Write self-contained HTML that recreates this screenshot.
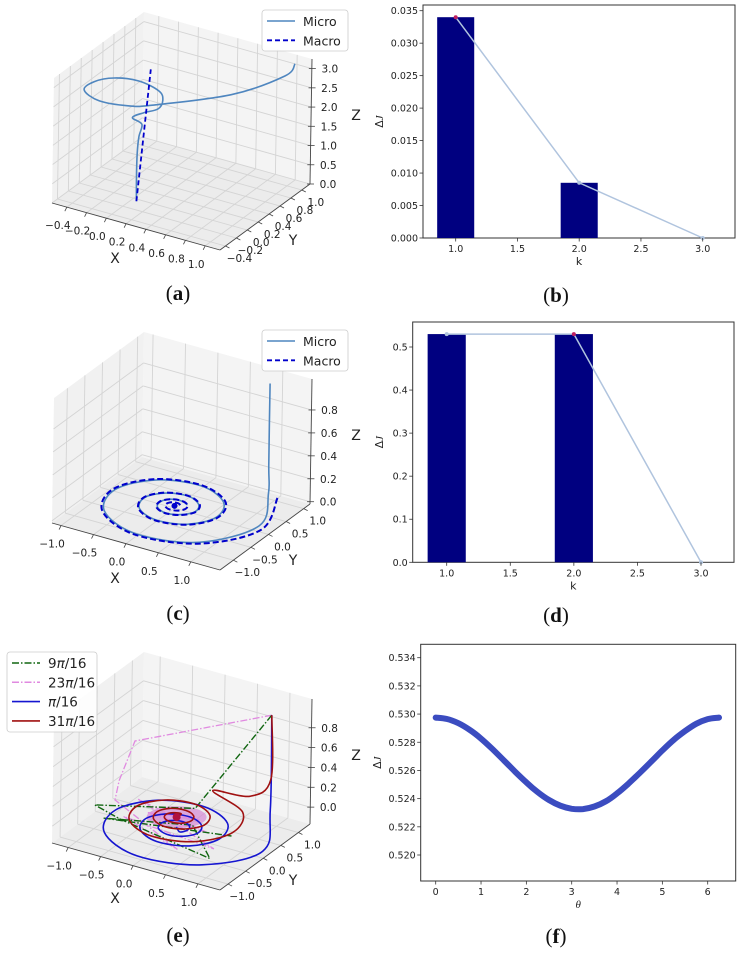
<!DOCTYPE html>
<html><head><meta charset="utf-8"><style>
html,body{margin:0;padding:0;background:#fff;}
svg{display:block;font-family:"DejaVu Sans","Liberation Sans",sans-serif;}
.cap{font-family:"Liberation Serif",serif;font-size:21px;}
</style></head><body>
<svg id="fig" width="741" height="957" viewBox="0 0 741 957" xmlns="http://www.w3.org/2000/svg">
<g id="root"></g>
</svg>
<script>
// ---------- Panel (a) data ----------
const aMicroX = [0.05,-0.04,-0.08,-0.12,-0.07,-0.15,-0.02,0.16,0.11,-0.01,-0.26,-0.47,-0.58,-0.57,-0.35,-0.08,0.08,0.63,0.95,0.98];
const aMicroY = [-0.04,0.12,0.20,0.30,0.26,0.23,0.20,0.13,0.31,0.46,0.54,0.47,0.30,0.10,-0.02,0.04,0.17,0.62,1.02,1.15];
const aMicroZ = [0.0,0.4,0.9,1.2,1.6,1.75,2.0,2.3,2.3,2.3,2.3,2.3,2.3,2.3,2.3,2.3,2.3,2.5,2.8,3.0];
const aMacroX = [0.05,-0.06];
const aMacroY = [-0.04,0.39];
const aMacroZ = [0.0,2.9];
const aXTicks = [-0.4,-0.2,0.0,0.2,0.4,0.6,0.8,1.0];
const aYTicks = [-0.4,-0.2,0.0,0.2,0.4,0.6,0.8,1.0];
const aZTicks = [0.0,0.5,1.0,1.5,2.0,2.5,3.0];
// ---------- Panel (c) data ----------
const cMacroX = [1.03,1.33,0.86,0,-0.72,-0.94,-0.61,0,0.51,0.66,0.43,0,-0.36,-0.47,-0.30,0,0.25,0.33,0.21,0,-0.18,-0.23,-0.15,0,0.13,0.17,0.11,0,-0.09,-0.12,-0.08,0,0.06];
const cMacroY = [1.03,0,-0.86,-1.12,-0.72,0,0.61,0.79,0.51,0,-0.43,-0.56,-0.36,0,0.30,0.39,0.25,0,-0.21,-0.28,-0.18,0,0.15,0.20,0.13,0,-0.11,-0.14,-0.09,0,0.08,0.10,0.06];
const cMicroX = [0.93,0.93,0.96,1.25,0.83,0,-0.70,-0.91,-0.59,0,0.49,0.64,0.42,0,-0.35,-0.46,-0.29,0,0.24,0.32,0.20,0,-0.17,-0.22,-0.15,0,0.13];
const cMicroY = [0.95,0.95,0.90,0.10,-0.83,-1.09,-0.70,0,0.59,0.77,0.49,0,-0.42,-0.54,-0.35,0,0.29,0.38,0.24,0,-0.20,-0.27,-0.17,0,0.15,0.19,0.13];
const cMicroZ = [1.0,0.3,0.06,0,0,0,0,0,0,0,0,0,0,0,0,0,0,0,0,0,0,0,0,0,0,0,0];
const cXTicks = [-1.0,-0.5,0.0,0.5,1.0];
const cYTicks = [-1.0,-0.5,0.0,0.5,1.0];
const cZTicks = [0.0,0.2,0.4,0.6,0.8];
// ---------- Panel (e) data ----------
const eBlueX = [0.93,0.93,1.33,0.86,0,-0.72,-0.94,-0.61,0,0.51,0.66,0.43,0,-0.36,-0.47,-0.30,0,0.25,0.33,0.21,0,-0.18,-0.23,-0.15,0,0.13,0.17,0.11,0];
const eBlueY = [0.95,0.95,0,-0.86,-1.12,-0.72,0,0.61,0.79,0.51,0,-0.43,-0.56,-0.36,0,0.30,0.39,0.25,0,-0.21,-0.28,-0.18,0,0.15,0.20,0.13,0,-0.11,0];
const eBlueZ = [0.95,0.0,-0.1,-0.1,-0.1,-0.1,-0.1,-0.1,-0.1,-0.1,-0.1,-0.1,-0.1,-0.1,-0.1,-0.1,-0.1,-0.1,-0.1,-0.1,-0.1,-0.1,-0.1,-0.1,-0.1,-0.1,-0.1,-0.1,-0.1];
const eRedX = [0.93,0.93,0.80,0,0.66,0.86,0.56,0,-0.47,-0.61,-0.39,0,0.33,0.43,0.27,0,-0.23,-0.30,-0.20,0,0.17,0.22,0.14,0,-0.12,-0.16,-0.10,0,0];
const eRedY = [0.95,0.95,0.60,1.03,0.66,0,-0.56,-0.73,-0.47,0,0.39,0.51,0.33,0,-0.27,-0.36,-0.23,0,0.20,0.26,0.17,0,-0.14,-0.18,-0.12,0,0.10,0.13,0];
const eRedZ = [0.95,0.30,0.20,0,0,0,0,0,0,0,0,0,0,0,0,0,0,0,0,0,0,0,0,0,0,0,0,0,0];
const ePinkX = [0.93,-0.95,-1.05,-0.95,0.5,-0.6,0.9,-0.7,0.6,-0.4,0.3,-0.2,0.1];
const ePinkY = [0.95,0.55,0.3,0.0,-0.9,-0.4,-0.6,0.2,-0.2,-0.1,0.1,0.0,0.0];
const ePinkZ = [0.95,0.45,0.1,0,0,0,0,0,0,0,0,0,0];
const eGreenX = [0.93,0.15,-1.1,-0.6,1.0,0.3,-0.8,0.9];
const eGreenY = [0.95,0.25,-0.3,-0.5,-0.9,-0.1,-0.6,-0.1];
const eGreenZ = [0.95,0.05,0,0,0,0,0,0];
const eXTicks = [-1.0,-0.5,0.0,0.5,1.0];
const eYTicks = [-1.0,-0.5,0.0,0.5,1.0];
const eZTicks = [0.0,0.2,0.4,0.6,0.8];
// ---------- Panel (b) data ----------
const bK = [1,2];
const bBars = [0.034,0.0085];
const bLineK = [1,2,3];
const bLineV = [0.034,0.0085,0.0];
const bYTicks = [0.000,0.005,0.010,0.015,0.020,0.025,0.030,0.035];
const bXTicks = [1.0,1.5,2.0,2.5,3.0];
// ---------- Panel (d) data ----------
const dK = [1,2];
const dBars = [0.53,0.53];
const dLineK = [1,2,3];
const dLineV = [0.53,0.53,0.0];
const dYTicks = [0.0,0.1,0.2,0.3,0.4,0.5];
const dXTicks = [1.0,1.5,2.0,2.5,3.0];
// ---------- Panel (f) data ----------
const fTheta = [0,0.25,0.5,0.75,1,1.25,1.5,1.75,2,2.25,2.5,2.75,3,3.25,3.5,3.75,4,4.25,4.5,4.75,5,5.25,5.5,5.75,6,6.25];
const fVals = [0.52975,0.52965,0.52935,0.52888,0.52826,0.52752,0.52673,0.52592,0.52515,0.52446,0.52390,0.52350,0.52328,0.52326,0.52344,0.52380,0.52437,0.52506,0.52582,0.52661,0.52742,0.52817,0.52879,0.52932,0.52964,0.52975];
const fYTicks = [0.520,0.522,0.524,0.526,0.528,0.530,0.532,0.534];
const fXTicks = [0,1,2,3,4,5,6];

const NS = "http://www.w3.org/2000/svg";
const root = document.getElementById('root');
function mk(tag, attrs, parent){
  const e = document.createElementNS(NS, tag);
  for (const k in attrs) e.setAttribute(k, attrs[k]);
  (parent||root).appendChild(e);
  return e;
}
function txt(s, x, y, size, parent, anchor){
  const t = mk('text', {x:x, y:y, 'font-size':size, 'text-anchor':anchor||'middle', fill:'#222'}, parent);
  t.textContent = s;
  return t;
}
function crPath(pts){
  if (pts.length < 2) return '';
  let d = 'M' + pts[0][0].toFixed(1) + ' ' + pts[0][1].toFixed(1);
  for (let i = 0; i < pts.length-1; i++){
    const p0 = pts[i-1]||pts[i], p1 = pts[i], p2 = pts[i+1], p3 = pts[i+2]||p2;
    const c1 = [p1[0]+(p2[0]-p0[0])/6, p1[1]+(p2[1]-p0[1])/6];
    const c2 = [p2[0]-(p3[0]-p1[0])/6, p2[1]-(p3[1]-p1[1])/6];
    d += ' C'+c1[0].toFixed(1)+' '+c1[1].toFixed(1)+' '+c2[0].toFixed(1)+' '+c2[1].toFixed(1)+' '+p2[0].toFixed(1)+' '+p2[1].toFixed(1);
  }
  return d;
}
function linPath(pts){ return pts.map((p,i)=>(i?'L':'M')+p[0].toFixed(1)+' '+p[1].toFixed(1)).join(' '); }

// ---------- 3D panel ----------
function panel3d(name, oy, xr, yr, zr, xt, yt, zt){
  const g = mk('g', {});
  
  
  const P = (x,y,z)=>{
    const u=(x-xr[0])/(xr[1]-xr[0]), v=(y-yr[0])/(yr[1]-yr[0]), w=(z-zr[0])/(zr[1]-zr[0]);
    return [52+u*168+v*90+w*2, oy+203+u*47-v*66-w*125];
  };
  const poly = (pts, fill)=> mk('polygon', {points: pts.map(p=>p.join(',')).join(' '), fill:fill, stroke:'none'}, g);
  const [x0,x1]=xr,[y0,y1]=yr,[z0,z1]=zr;
  const left = poly([P(x0,y0,z0),P(x0,y1,z0),P(x0,y1,z1),P(x0,y0,z1)], '#f1f1f1');
   
  const back = poly([P(x0,y1,z0),P(x1,y1,z0),P(x1,y1,z1),P(x0,y1,z1)], '#f4f4f4');
   
  const floor = poly([P(x0,y0,z0),P(x1,y0,z0),P(x1,y1,z0),P(x0,y1,z0)], '#ececec');
   
  const gl = (a,b)=> mk('line', {x1:a[0],y1:a[1],x2:b[0],y2:b[1],stroke:'#d4d4d4','stroke-width':0.9}, g);
  xt.forEach(x=>{ gl(P(x,y0,z0),P(x,y1,z0)); gl(P(x,y1,z0),P(x,y1,z1)); });
  yt.forEach(y=>{ gl(P(x0,y,z0),P(x1,y,z0)); gl(P(x0,y,z0),P(x0,y,z1)); });
  zt.forEach(z=>{ gl(P(x0,y0,z),P(x0,y1,z)); gl(P(x0,y1,z),P(x1,y1,z)); });
  const al = (a,b)=> mk('line', {x1:a[0],y1:a[1],x2:b[0],y2:b[1],stroke:'#444','stroke-width':0.9}, g);
  al(P(x0,y0,z0),P(x1,y0,z0)); al(P(x1,y0,z0),P(x1,y1,z0)); al(P(x1,y1,z0),P(x1,y1,z1));
  xt.forEach(x=>{ const p=P(x,y0,z0); mk('line',{x1:p[0],y1:p[1],x2:p[0]-2,y2:p[1]+4,stroke:'#444','stroke-width':0.8},g);
    const t=txt(x.toFixed(1).replace('-','\u2212'), p[0]-9, p[1]+22, 10.5, g);
      });
  yt.forEach(y=>{ const p=P(x1,y,z0); mk('line',{x1:p[0],y1:p[1],x2:p[0]+4,y2:p[1]+2,stroke:'#444','stroke-width':0.8},g);
    const t=txt(y.toFixed(1).replace('-','\u2212'), p[0]+14, p[1]+16, 10.5, g);
      });
  zt.forEach(z=>{ const p=P(x1,y1,z); mk('line',{x1:p[0]-3,y1:p[1],x2:p[0]+4,y2:p[1],stroke:'#444','stroke-width':0.8},g);
    const t=txt(z.toFixed(1), p[0]+18, p[1]+4, 10.5, g);
      });
  const xl=txt('X',115,oy+263,14,g);  
  const yl=txt('Y',293,oy+245,14,g);  
  const zl=txt('Z',356,oy+120,14,g);  
  return {g:g, P:P};
}
function curve3d(pan, xs, ys, zs, style, name, smooth){
  const pts = xs.map((x,i)=>pan.P(x, ys[i], zs[i]));
  const a = Object.assign({d: smooth? crPath(pts): linPath(pts), fill:'none'}, style);
  const p = mk('path', a, pan.g);
  
  
  return p;
}
function legend(x, y, w, h, entries, gParent, name, fs){
  const g = mk('g', {}, gParent);
  
  
  mk('rect', {x:x,y:y,width:w,height:h,rx:3,fill:'#fff','fill-opacity':0.85,stroke:'#ccc','stroke-width':0.8}, g);
  entries.forEach((e,i)=>{
    const yy = y + 11 + i*19.3;
    const ln = mk('line', Object.assign({x1:x+5,y1:yy,x2:x+33,y2:yy}, e.style), g);
     
    const t = mk('text', {x:x+41, y:yy+5, 'font-size':fs, fill:'#222'}, g);
    t.innerHTML = e.label;
     
  });
}
function caption(s, x, y){
  const t = mk('text', {x:x, y:y, 'text-anchor':'middle', class:'cap', fill:'#111'});
  t.innerHTML = '(<tspan font-weight="bold">'+s+'</tspan>)';
  
  
}

// Panel a
const pa = panel3d('panel-a-3d', 0, [-0.55,1.15], [-0.5,1.15], [0,3.25], aXTicks, aYTicks, aZTicks);
curve3d(pa, aMicroX, aMicroY, aMicroZ, {stroke:'#4f86bf','stroke-width':1.6}, 'micro-trajectory', true);
curve3d(pa, aMacroX, aMacroY, aMacroZ, {stroke:'#0000cc','stroke-width':1.8,'stroke-dasharray':'5,3'}, 'macro-trajectory', false);
legend(262, 10, 86, 41, [
  {label:'Micro', style:{stroke:'#4f86bf','stroke-width':1.6}},
  {label:'Macro', style:{stroke:'#0000cc','stroke-width':1.8,'stroke-dasharray':'5,3'}}], pa.g, 'legend-a', 12.5);
caption('a', 178, 300);

// Panel c
const pc = panel3d('panel-c-3d', 320, [-1.14,1.45], [-1.38,1.18], [-0.02,1.07], cXTicks, cYTicks, cZTicks);
curve3d(pc, cMicroX, cMicroY, cMicroZ, {stroke:'#4f86bf','stroke-width':1.6}, 'micro-trajectory', true);
curve3d(pc, cMacroX, cMacroY, cMacroX.map(()=>0), {stroke:'#0000cc','stroke-width':2,'stroke-dasharray':'6,3'}, 'macro-spiral', true);
const cc = pc.P(0,0,0);
const cdot = mk('circle', {cx:cc[0], cy:cc[1], r:3, fill:'#0000cc'}, pc.g);
 
legend(262, 330, 86, 41, [
  {label:'Micro', style:{stroke:'#4f86bf','stroke-width':1.6}},
  {label:'Macro', style:{stroke:'#0000cc','stroke-width':1.8,'stroke-dasharray':'5,3'}}], pc.g, 'legend-c', 12.5);
caption('c', 178, 620);

// Panel e
const pe = panel3d('panel-e-3d', 640, [-1.25,1.34], [-1.23,1.33], [-0.17,1.09], eXTicks, eYTicks, eZTicks);
const ec = pe.P(0,0,0);
const blob = mk('ellipse', {cx:ec[0], cy:ec[1], rx:30, ry:11, fill:'#d070d0','fill-opacity':0.55}, pe.g);
 
curve3d(pe, ePinkX, ePinkY, ePinkZ, {stroke:'#e08ae0','stroke-width':1.3,'stroke-dasharray':'7,2,1.5,2'}, 'series-23pi-16', false);
curve3d(pe, eGreenX, eGreenY, eGreenZ, {stroke:'#116611','stroke-width':1.4,'stroke-dasharray':'7,2,1.5,2'}, 'series-9pi-16', false);
curve3d(pe, eBlueX, eBlueY, eBlueZ, {stroke:'#1515d0','stroke-width':1.6}, 'series-pi-16', true);
curve3d(pe, eRedX, eRedY, eRedZ, {stroke:'#a01010','stroke-width':1.6}, 'series-31pi-16', true);
const edot = mk('circle', {cx:ec[0], cy:ec[1], r:4, fill:'#b01040'}, pe.g);
 
legend(7, 652, 90, 80, [
  {label:'9<tspan font-style="italic">π</tspan>/16', style:{stroke:'#116611','stroke-width':1.5,'stroke-dasharray':'7,2,1.5,2'}},
  {label:'23<tspan font-style="italic">π</tspan>/16', style:{stroke:'#e08ae0','stroke-width':1.5,'stroke-dasharray':'7,2,1.5,2'}},
  {label:'<tspan font-style="italic">π</tspan>/16', style:{stroke:'#1515d0','stroke-width':1.6}},
  {label:'31<tspan font-style="italic">π</tspan>/16', style:{stroke:'#a01010','stroke-width':1.6}}], pe.g, 'legend-e', 13.5);
caption('e', 178, 942);

// ---------- 2D panels ----------
function axes2d(name, box, xs, ys, xt, yt, xfmt, yfmt, xlab, ylabX){
  const g = mk('g', {});
  
  
  const sx = v => xs[0][1] + (v - xs[0][0]) * (xs[1][1]-xs[0][1])/(xs[1][0]-xs[0][0]);
  const sy = v => ys[0][1] + (v - ys[0][0]) * (ys[1][1]-ys[0][1])/(ys[1][0]-ys[0][0]);
  const frame = mk('rect', {x:box[0], y:box[1], width:box[2]-box[0], height:box[3]-box[1], fill:'#fff', stroke:'#333','stroke-width':1}, g);
   
  const marks = mk('g', {}, g);
  xt.forEach(v=>{ const x=sx(v); mk('line',{x1:x,y1:box[3],x2:x,y2:box[3]+3.5,stroke:'#333','stroke-width':0.8},g);
    const t=txt(xfmt(v), x, box[3]+14, 9.5, g);   });
  yt.forEach(v=>{ const y=sy(v); mk('line',{x1:box[0],y1:y,x2:box[0]-3.5,y2:y,stroke:'#333','stroke-width':0.8},g);
    const t=txt(yfmt(v), box[0]-5, y+3.5, 9.5, g, 'end');   });
  const xl = mk('text', {x:(box[0]+box[2])/2, y:box[3]+27, 'font-size':11, 'text-anchor':'middle', fill:'#222'}, g);
  xl.innerHTML = xlab;
   
  const cy = (box[1]+box[3])/2;
  const yl = mk('text', {x:ylabX, y:cy, 'font-size':11, 'text-anchor':'middle', fill:'#222', transform:'rotate(-90 '+ylabX+' '+cy+')'}, g);
  yl.innerHTML = 'Δ<tspan font-style="italic" font-family="Liberation Serif, serif">J</tspan>';
   
  return {g:marks, sx:sx, sy:sy, box:box, frame:frame};
}
function barPanel(name, box, xs, ys, xt, yt, yfmt, ks, bars, lk, lv, redIdx, ylabX){
  const ax = axes2d(name, box, xs, ys, xt, yt, v=>v.toFixed(1), yfmt, 'k', ylabX);
  ks.forEach((k,i)=>{
    const x0 = ax.sx(k-0.15), x1 = ax.sx(k+0.15), y0 = ax.sy(bars[i]), yb = ax.sy(0);
    const r = mk('rect', {x:x0, y:y0, width:x1-x0, height:yb-y0, fill:'#000080'}, ax.g);
     
  });
  const pts = lk.map((k,i)=>[ax.sx(k), ax.sy(lv[i])]);
  const ln = mk('path', {d:linPath(pts), fill:'none', stroke:'#b0c4de','stroke-width':1.5}, ax.g);
   
  pts.forEach((p,i)=>{
    const c = mk('circle', {cx:p[0], cy:p[1], r:2, fill: i===redIdx ? '#c02060' : '#b0c4de'}, ax.g);
     
  });
}
barPanel('panel-b-bar-chart', [423,5,735,238], [[1,455.7],[3,702.7]], [[0,238],[0.035,10.7]], bXTicks, bYTicks, v=>v.toFixed(3), bK, bBars, bLineK, bLineV, 0, 383);
caption('b', 556, 302);
barPanel('panel-d-bar-chart', [412.7,322,734,562.3], [[1,446.7],[3,701]], [[0,562.3],[0.5,347]], dXTicks, dYTicks, v=>v.toFixed(1), dK, dBars, dLineK, dLineV, 1, 383);
caption('d', 556, 622);

const axf = axes2d('panel-f-line-chart', [420.7,644.3,735.7,881], [[0,435.7],[6,707.7]], [[0.520,855],[0.534,657.7]], fXTicks, fYTicks, v=>String(v), v=>v.toFixed(3), '<tspan font-style="italic" font-family="Liberation Serif, serif">θ</tspan>', 381);
const fpts = fTheta.map((t,i)=>[axf.sx(t), axf.sy(fVals[i])]);
const fl = mk('path', {d:crPath(fpts), fill:'none', stroke:'#3b4cc0','stroke-width':6,'stroke-linecap':'round'}, axf.g);
 
caption('f', 556, 943);
</script>
</body></html>
